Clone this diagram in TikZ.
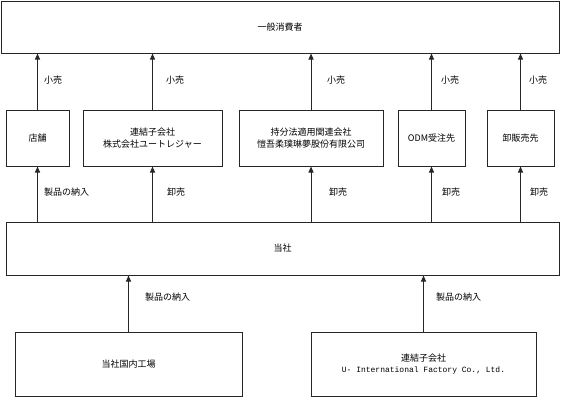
\documentclass[tikz,border=0pt]{standalone}
\usepackage{fontspec}
\setmainfont{Noto Sans CJK JP}
\newfontfamily\latinmono{Liberation Mono}
\usetikzlibrary{arrows.meta}

\begin{document}
\begin{tikzpicture}[
  x=1pt,
  y=-1pt,
  box/.style={draw=black!85, line width=1pt, fill=white, align=center, inner sep=0pt,
    font=\fontsize{9}{11.5}\selectfont},
  arrow/.style={-{Triangle[length=6pt,width=5pt]}, line width=1pt, draw=black!85},
  lbl/.style={anchor=west, inner sep=0pt, font=\fontsize{9}{11}\selectfont}
]
\useasboundingbox (0,0) rectangle (570,397);

\node[box, minimum width=558pt, minimum height=52pt] (consumer) at (280,27) {一般消費者};

\node[box, minimum width=63pt, minimum height=56pt] (shop) at (37.5,138) {店舗};
\node[box, minimum width=139pt, minimum height=56pt] (utreasure) at (152.5,138) {連結子会社\\株式会社ユートレジャー};
\node[box, minimum width=144pt, minimum height=56pt] (affiliate) at (311,138) {持分法適用関連会社\\愷吾柔璞琳夢股份有限公司};
\node[box, minimum width=67pt, minimum height=56pt] (odm) at (431.5,138) {ODM受注先};
\node[box, minimum width=67pt, minimum height=56pt] (wholesale) at (520.5,138) {卸販売先};

\node[box, minimum width=553pt, minimum height=53pt] (company) at (282.5,248.5) {当社};

\node[box, minimum width=227pt, minimum height=64pt] (factory) at (128.5,364) {当社国内工場};
\node[box, minimum width=225pt, minimum height=64pt] (subsidiary) at (423.5,364)
  {連結子会社\\{\latinmono\fontsize{8}{11}\selectfont U- International Factory Co., Ltd.}};

% retail to consumers
\draw[arrow] (shop) -- (shop |- consumer.south);
\draw[arrow] (utreasure) -- (utreasure |- consumer.south);
\draw[arrow] (affiliate) -- (affiliate |- consumer.south);
\draw[arrow] (odm) -- (odm |- consumer.south);
\draw[arrow] (wholesale) -- (wholesale |- consumer.south);

\node[lbl] (retail1) at (44,80) {小売};
\node[lbl] (retail2) at (166,80) {小売};
\node[lbl] (retail3) at (327,80) {小売};
\node[lbl] (retail4) at (441,80) {小売};
\node[lbl] (retail5) at (529,80) {小売};

% from the company
\draw[arrow] (company.north -| shop) -- (shop);
\draw[arrow] (company.north -| utreasure) -- (utreasure);
\draw[arrow] (company.north -| affiliate) -- (affiliate);
\draw[arrow] (company.north -| odm) -- (odm);
\draw[arrow] (company.north -| wholesale) -- (wholesale);

\node[lbl] (supply1) at (44,192) {製品の納入};
\node[lbl] (sale2) at (167,192) {卸売};
\node[lbl] (sale3) at (329,192) {卸売};
\node[lbl] (sale4) at (442,192) {卸売};
\node[lbl] (sale5) at (530,192) {卸売};

% supply to the company
\draw[arrow] (factory) -- (factory |- company.south);
\draw[arrow] (subsidiary) -- (subsidiary |- company.south);

\node[lbl] (supply6) at (145,297) {製品の納入};
\node[lbl] (supply7) at (436,297) {製品の納入};
\end{tikzpicture}
\end{document}
